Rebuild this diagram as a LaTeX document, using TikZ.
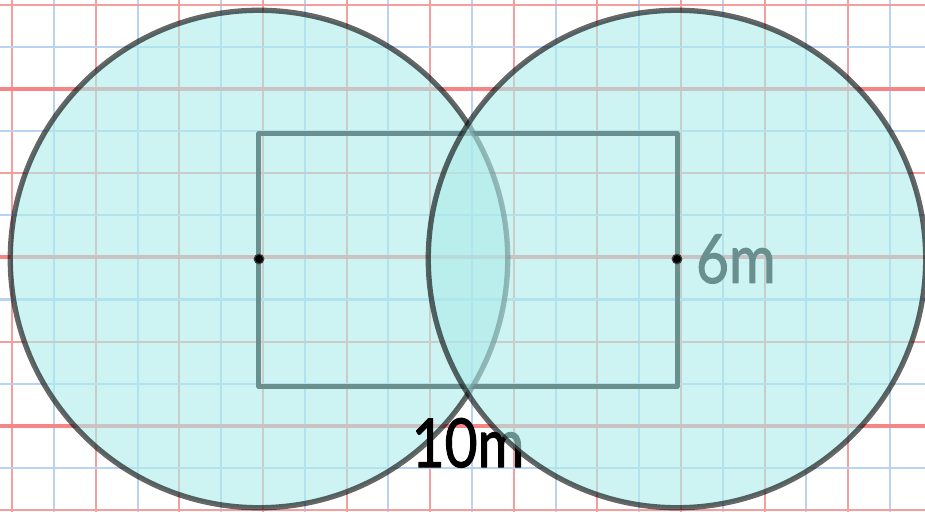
\documentclass[tikz,border=0pt]{standalone}
\usepackage{fontspec}
\setmainfont{Lato}
\newfontfamily\labelfont[FakeBold=1.6]{Lato}
\usetikzlibrary{positioning}

\definecolor{gridblue}{RGB}{184,212,242}
\definecolor{gridred}{RGB}{244,158,158}
\definecolor{discfill}{RGB}{173,235,234}

\begin{document}
\begin{tikzpicture}[
    line join=round,
    bluerule/.style={gridblue,line width=1.4pt},
    redrule/.style={gridred,line width=1.4pt},
    heavyrule/.style={gridred!85!red,line width=2.8pt},
    disc/.style={fill=discfill,fill opacity=0.61,draw=black,draw opacity=0.6,line width=3.6pt},
    plot/.style={draw=black,line width=3.4pt},
    dot/.style={circle,fill=black,draw=black!75,line width=0.8pt,inner sep=0pt,minimum size=6.5pt},
    lbl/.style={font=\labelfont\fontsize{46}{54}\selectfont,inner sep=0pt,xscale=0.84,transform shape}
]
\path[use as bounding box] (-6.196,-6.029) rectangle (15.933,6.196);

% squared paper
\foreach \i in {-5,-3,...,15}
    \draw[bluerule] (\i+0.096,-6.1) -- (\i+0.096,6.3);
\foreach \i in {-6,-4,...,14}
    \draw[redrule] (\i+0.096,-6.1) -- (\i+0.096,6.3);
\foreach \k in {1,3,...,11}
    \draw[bluerule] (-6.3,{6.08-1.007*\k}) -- (16,{6.08-1.007*\k});
\foreach \k in {0,4,8,12}
    \draw[redrule] (-6.3,{6.08-1.007*\k}) -- (16,{6.08-1.007*\k});
\foreach \k in {2,6,10}
    \draw[heavyrule] (-6.3,{6.08-1.007*\k}) -- (16,{6.08-1.007*\k});

\coordinate (lc) at (0,0);
\coordinate (rc) at (10,0);
\coordinate (base) at (5,-3.05);

\draw[plot] ([yshift=-3.05cm]lc) rectangle ([yshift=3cm]rc);
\draw[disc] (lc) circle[radius=5.95];
\node[lbl,below=0.75cm of base] (ten) {10m};
\node[lbl,right=0.45cm of rc] (six) {6m};
\draw[disc] (rc) circle[radius=5.95];

\node[dot] (lcdot) at (lc) {};
\node[dot] (rcdot) at (rc) {};
\end{tikzpicture}
\end{document}
